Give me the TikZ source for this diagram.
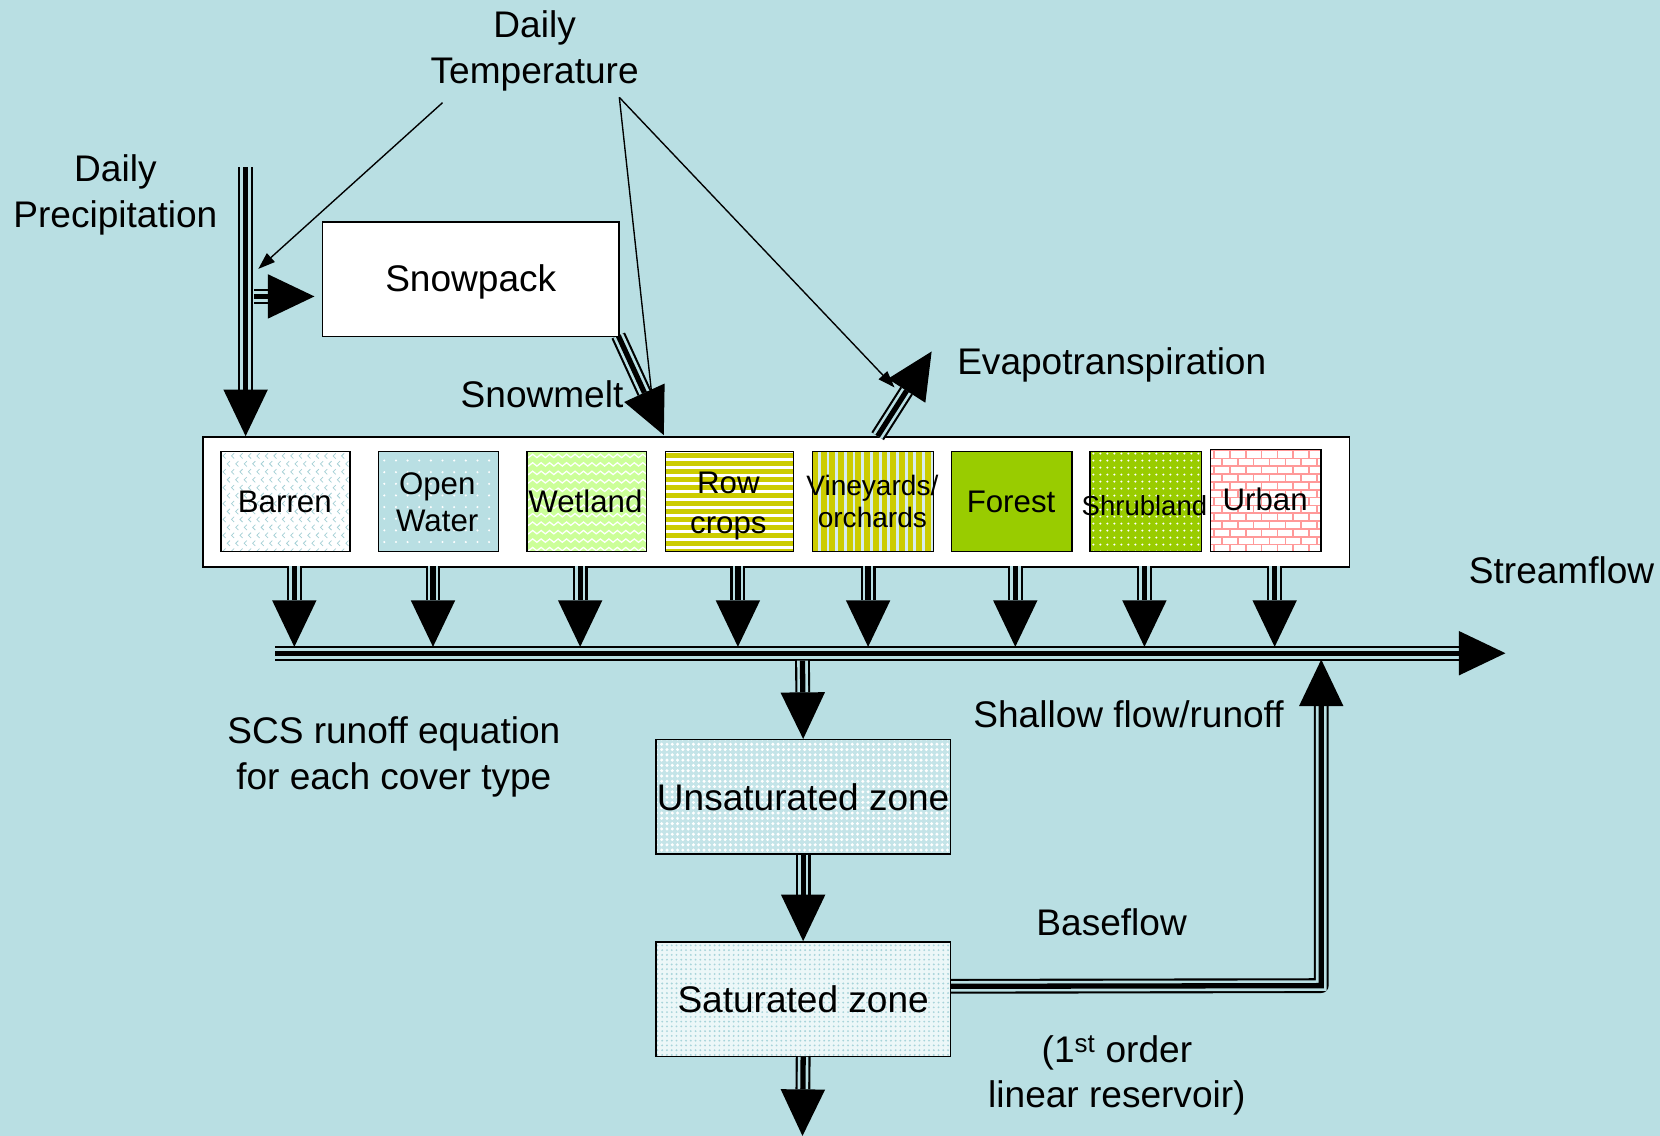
\documentclass[tikz,border=0pt]{standalone}
\usepackage{fontspec}
\setmainfont{Liberation Sans}
\usetikzlibrary{calc,arrows.meta,patterns.meta,decorations.pathmorphing}
\definecolor{bgc}{RGB}{185,223,227}
\definecolor{ycol}{RGB}{204,204,0}
\definecolor{wetc}{RGB}{204,255,153}
\definecolor{forc}{RGB}{153,204,0}
\definecolor{brickc}{RGB}{255,153,153}
\definecolor{barc}{RGB}{165,208,214}
\definecolor{vlc}{RGB}{214,236,238}
\definecolor{unc}{RGB}{196,228,232}
\definecolor{satc}{RGB}{236,247,248}
\definecolor{satd}{RGB}{168,212,218}
\newcommand{\tri}[1]{\draw[line width=14pt,line join=round]#1; \draw[line width=10pt,bgc]#1; \draw[line width=5pt]#1;}
\newcommand{\ahead}[2]{\coordinate (hb) at ($(#1)!44pt!(#2)$);
  \fill ($(hb)!21pt!90:(#1)$) -- (#1) -- ($(hb)!21pt!-90:(#1)$) -- cycle;}
\newcommand{\flowarrow}[2]{\coordinate (fb) at ($(#2)!44pt!(#1)$); \tri{(#1) -- (fb)} \ahead{#2}{#1}}
\begin{document}
\begin{tikzpicture}[x=1pt,y=-1pt,
  every node/.style={inner sep=0pt},
  lab/.style={font=\fontsize{35}{43}\selectfont, align=center},
  dlab/.style={lab, yshift=-3pt},
  clab/.style={font=\fontsize{29.5}{35}\selectfont, align=center},
  box/.style={draw, line width=1.3pt, anchor=north west, inner sep=0pt},
  thinarr/.style={line width=1.3pt, -{Triangle[length=16pt,width=11pt]}},
  barrenfill/.style={fill=white, path picture={
    \foreach \j in {0,...,12} \foreach \i in {0,...,15} {
      \draw[barc, line width=0.7pt] ([xshift={\i*8pt+mod(\j,2)*4pt+2pt}, yshift={-\j*7.5pt-4pt}]path picture bounding box.north west) ++(2.5,-2.5) -- ++(-2.5,2.5) -- ++(2.5,2.5);
    }}},
  wetfill/.style={fill=wetc, path picture={
    \foreach \j in {0,...,11} \draw[white, line width=1.2pt, decorate, decoration={snake, amplitude=1.6pt, segment length=8pt}] ([yshift={-\j*8pt-4pt}, xshift=-5pt]path picture bounding box.north west) -- ++(130,0);}},
  rowfill/.style={fill=white, path picture={
    \foreach \j in {0,...,12} \fill[ycol] ([yshift={-\j*7.6pt-1pt}]path picture bounding box.north west) rectangle ++(130,4.8);}},
  vinefill/.style={fill=ycol, path picture={
    \foreach \i in {0,...,14} \fill[vlc] ([xshift={\i*8.2pt+5pt}]path picture bounding box.north west) rectangle ++(2.6,100);}},
  urbanfill/.style={fill=white, path picture={
    \foreach \j in {0,...,13} {
      \draw[brickc, line width=1.6pt] ([yshift={-\j*7.4pt-1pt}]path picture bounding box.north west) -- ++(120,0);
      \foreach \i in {0,...,8} \draw[brickc, line width=1.6pt] ([xshift={\i*15pt+mod(\j,2)*7.5pt+3pt}, yshift={-\j*7.4pt-1pt}]path picture bounding box.north west) -- ++(0,7.4);
    }}},
  owfill/.style={preaction={fill=bgc}, pattern={Dots[distance=11pt,radius=1.1pt]}, pattern color=white},
  shrubfill/.style={preaction={fill=forc}, pattern={Dots[distance=6.5pt,radius=1.1pt]}, pattern color=white},
  unsfill/.style={preaction={fill=unc}, pattern={Dots[distance=5pt,radius=1.6pt]}, pattern color=white},
  satfill/.style={preaction={fill=satc}, pattern={Dots[distance=4.5pt,radius=1pt]}, pattern color=satd},
]
\fill[bgc] (0,0) rectangle (1568,1073);
\useasboundingbox (0,0) rectangle (1568,1073);

% coordinates for free ends
\coordinate (t1) at (418,97);
\coordinate (t2) at (585,92);
\coordinate (p0) at (232,158);
\coordinate (pb) at (240,280);
\coordinate (sm) at (627,411);
\coordinate (ev0) at (829,412);
\coordinate (ev1) at (880,332);
\coordinate (sf0) at (260,617);
\coordinate (sf1) at (1422,617);
\coordinate (u0) at (758,624);
\coordinate (bot) at (758,1073);
\coordinate (bf1) at (1248,931);
\coordinate (sh) at (1248,623);

% snowmelt shaft (under the box)
\coordinate (snowc) at (584,317);
\coordinate (fb) at ($(sm)!44pt!(snowc)$);
\tri{(snowc) -- (fb)}

% boxes
\node[box, fill=white, minimum width=280pt, minimum height=108pt] (snow) at (304,209) {};
\node[dlab] at (snow.center) {Snowpack};
\node[box, fill=white, minimum width=1083pt, minimum height=123pt] (land) at (191,412) {};

\node[box, barrenfill, minimum width=122pt, minimum height=94pt] (barren) at (208,426) {};
\node[box, owfill, minimum width=113pt, minimum height=94pt] (ow) at (357,426) {};
\node[box, wetfill, minimum width=113pt, minimum height=94pt] (wet) at (497,426) {};
\node[box, rowfill, minimum width=121pt, minimum height=94pt] (row) at (628,426) {};
\node[box, vinefill, minimum width=114pt, minimum height=94pt] (vine) at (767,426) {};
\node[box, fill=forc, minimum width=114pt, minimum height=94pt] (forest) at (898,426) {};
\node[box, shrubfill, minimum width=105pt, minimum height=94pt] (shrub) at (1029,426) {};
\node[box, urbanfill, minimum width=104pt, minimum height=96pt] (urban) at (1143,424) {};

\node[clab] at (269,474) {Barren};
\node[clab] at (413,474) {Open\\Water};
\node[clab] at (553,474) {Wetland};
\node[clab, font=\fontsize{29.5}{37}\selectfont] at (688,478) {Row\\crops};
\node[clab, font=\fontsize{26.5}{30}\selectfont] at (824,474) {Vineyards/\\orchards};
\node[clab] at (955,474) {Forest};
\node[clab, font=\fontsize{26}{30}\selectfont] at (1081,478) {Shrubland};
\node[clab] at (1195,472) {Urban};

\node[box, unsfill, minimum width=278pt, minimum height=108pt] (unsat) at (619,698) {};
\node[lab] at (unsat.center) {Unsaturated zone};
\node[box, satfill, minimum width=278pt, minimum height=108pt] (sat) at (619,889) {};
\node[lab] at (sat.center) {Saturated zone};

% labels
\node[dlab] (temp) at (505,45) {Daily\\Temperature};
\node[dlab] (precip) at (109,181) {Daily\\Precipitation};
\node[dlab, anchor=west] (evap) at (904,342) {Evapotranspiration};
\node[lab] (smlab) at (512,372) {Snowmelt};
\node[lab] (sflab) at (1475,539) {Streamflow};
\node[dlab] (scs) at (372,712) {SCS runoff equation\\for each cover type};
\node[lab] (shallow) at (1066,675) {Shallow flow/runoff};
\node[lab] (baseflow) at (1050,871) {Baseflow};
\node[dlab] (lin) at (1055,1013) {(1\textsuperscript{st} order\\linear reservoir)};

% thin temperature arrows
\draw[thinarr] (t1) -- (244,254);
\draw[line width=1.3pt] (t2) -- (617,385);
\draw[thinarr] (t2) -- (845,366);

% flow arrows
\ahead{sm}{snowc}
\flowarrow{p0}{p0 |- land.north}
\coordinate (sbt) at ($(pb -| snow.west)+(-7,0)$);
\flowarrow{pb}{sbt}
\flowarrow{ev0}{ev1}
\foreach \x in {278,409,548,697,820,959,1081,1204} {
  \coordinate (ca) at (\x,535);
  \coordinate (cb) at (\x,611);
  \flowarrow{ca}{cb}
}
\flowarrow{sf0}{sf1}
\flowarrow{u0}{unsat.north}
\flowarrow{unsat.south}{sat.north}
\flowarrow{sat.south}{bot}
\coordinate (bf0) at ($(sat.east)+(0,-12)$);
\coordinate (bfh) at ($(sh)!44pt!(bf1)$);
\tri{(bf0) -- (bf1) -- (bfh)}
\ahead{sh}{bf1}
\end{tikzpicture}
\end{document}
